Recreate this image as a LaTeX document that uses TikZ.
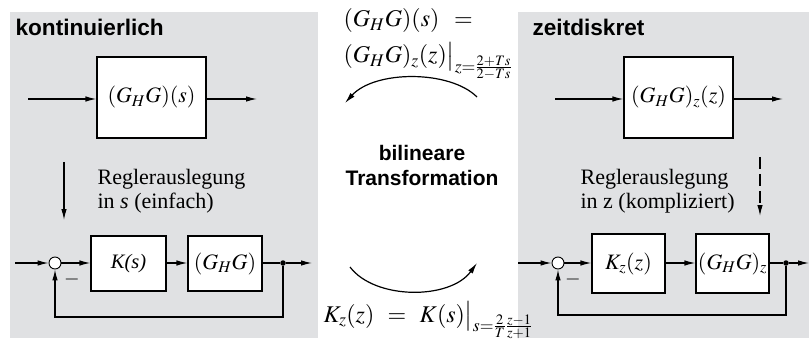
\documentclass[tikz,border=0pt]{standalone}
\usepackage{mathptmx}
\usepackage[no-math]{fontspec}
\setmainfont{Liberation Serif}
\newfontfamily\headfont{Liberation Sans}
\usetikzlibrary{arrows.meta}
\definecolor{panel}{RGB}{224,225,227}
\begin{document}
\begin{tikzpicture}[x=1pt,y=-1pt, line width=1.2pt,
  >={Latex[length=11pt,width=5.5pt]},
  blk/.style={draw, fill=white, inner sep=0pt, font=\fontsize{22}{24}\selectfont},
  sumnode/.style={circle, draw, fill=white, minimum size=12pt, inner sep=0pt, line width=0.9pt},
  dotnode/.style={circle, fill, minimum size=5.5pt, inner sep=0pt},
  head/.style={anchor=west, inner sep=0pt, font=\headfont\bfseries\fontsize{22.6}{26}\selectfont},
  txt/.style={anchor=base west, inner sep=0pt, font=\fontsize{22}{22}\selectfont},
  frm/.style={anchor=base west, inner sep=0pt, font=\fontsize{24}{26}\selectfont},
  minus/.style={inner sep=0pt, font=\fontsize{20}{20}\selectfont}]
\useasboundingbox (0,0) rectangle (809,342);
\fill[panel] (10,12) rectangle (318,338);
\fill[panel] (518,12) rectangle (809,338);

% ---------- left panel ----------
\node[head] (hl) at (15,27) {kontinuierlich};
\node[blk, minimum width=109pt, minimum height=81pt] (gl) at (151.5,97.5) {$(G_H G)(s)$};
\coordinate (gli) at (28,99);
\coordinate (glo) at (257,99);
\draw[->] (gli) -- (gli -| gl.west);
\draw[->] (glo -| gl.east) -- (glo);

\coordinate (dla) at (64,162);
\coordinate (dlb) at (64,220);
\draw[->] (dla) -- (dlb);
\node[txt] (rl1) at (97,185) {Reglerauslegung};
\node[txt] (rl2) at (97,208) {in \textit{s} (einfach)};

\node[sumnode] (sl) at (55,263) {};
\node[blk, minimum width=75pt, minimum height=55pt, font=\fontsize{20.5}{22}\selectfont] (kl) at (128.5,263.5) {\textit{K(s)}};
\node[blk, minimum width=74pt, minimum height=55pt] (pl) at (225,263.5) {$(G_H G)$};
\node[dotnode] (dl) at (283,263) {};
\coordinate (inl) at (15,263);
\coordinate (outl) at (312,263);
\coordinate (fbl) at (283,317);
\draw[->] (inl) -- (sl);
\draw[->] (sl) -- (sl -| kl.west);
\draw[->] (kl.east |- sl) -- (pl.west |- sl);
\draw (pl.east |- sl) -- (dl);
\draw[->] (dl) -- (outl);
\draw[->] (dl) -- (fbl) -| (sl.south);
\node[minus] (ml) at (72,279) {$-$};

% ---------- right panel ----------
\node[head] (hr) at (532,27) {zeitdiskret};
\node[blk, minimum width=109pt, minimum height=81pt] (gr) at (678.5,97.5) {$(G_H G)_z(z)$};
\coordinate (gri) at (555,99);
\coordinate (gro) at (783,99);
\draw[->] (gri) -- (gri -| gr.west);
\draw[->] (gro -| gr.east) -- (gro);

\coordinate (dra) at (760,157);
\coordinate (drb) at (760,216);
\draw[->, dash pattern=on 12pt off 5pt] (dra) -- (drb);
\node[txt] (rr1) at (580,185) {Reglerauslegung};
\node[txt] (rr2) at (580,208) {in z (kompliziert)};

\node[sumnode] (sr) at (558,263) {};
\node[blk, minimum width=73pt, minimum height=59pt] (kr) at (628.5,263.5) {$K_z(z)$};
\node[blk, minimum width=73pt, minimum height=59pt] (pr) at (732.5,263.5) {$(G_H G)_z$};
\node[dotnode] (dr) at (786,263) {};
\coordinate (inr) at (518,263);
\coordinate (outr) at (809,263);
\coordinate (fbr) at (786,315);
\draw[->] (inr) -- (sr);
\draw[->] (sr) -- (sr -| kr.west);
\draw[->] (kr.east |- sr) -- (pr.west |- sr);
\draw (pr.east |- sr) -- (dr);
\draw[->] (dr) -- (outr);
\draw[->] (dr) -- (fbr) -| (sr.south);
\node[minus] (mr) at (573,279) {$-$};

% ---------- middle ----------
\node[frm] (f1) at (343,27) {$(G_H G)(s)\mskip7mu=\mskip7mu$};
\node[frm] (f2) at (343,63) {$(G_H G)_z(z)\big|_{z=\frac{2+Ts}{2-Ts}}$};
\coordinate (ta) at (477,97);
\coordinate (tb) at (345,103);
\draw[->] (ta) .. controls (450,70) and (375,70) .. (tb);
\node[align=center, inner sep=0pt, font=\headfont\bfseries\fontsize{21}{25}\selectfont] (bt) at (422,165) {bilineare\\Transformation};
\coordinate (ba) at (350,267);
\coordinate (bb) at (477,263);
\draw[->] (ba) .. controls (375,300) and (450,300) .. (bb);
\node[frm] (f3) at (323,322) {$K_z(z)\mskip6mu=\mskip6mu K(s)\big|_{s=\frac{2}{T}\frac{z-1}{z+1}}$};
\end{tikzpicture}
\end{document}
